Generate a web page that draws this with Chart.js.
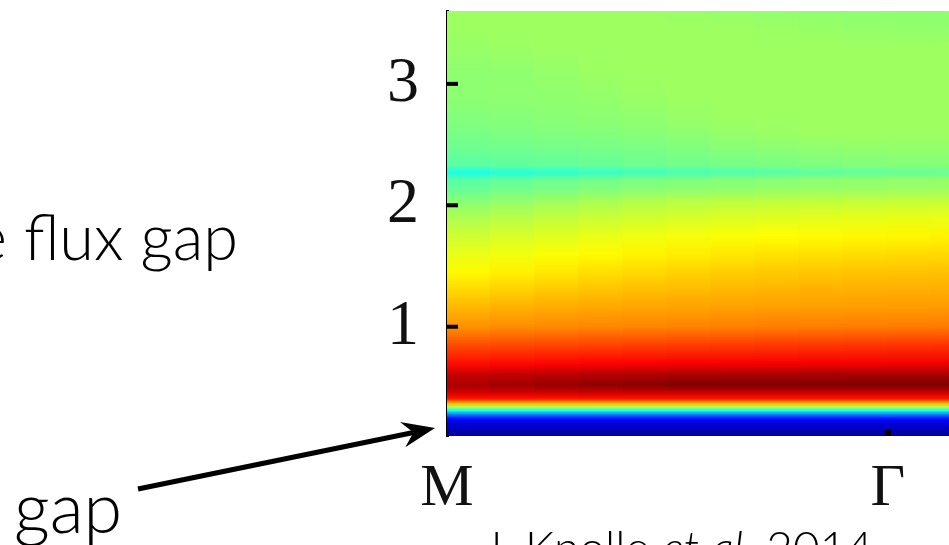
<!DOCTYPE html>
<html>
<head>
<meta charset="utf-8">
<script src="https://cdn.jsdelivr.net/npm/chart.js@4.4.0/dist/chart.umd.min.js"></script>
<style>
  html, body { margin: 0; padding: 0; background: #fff; overflow: hidden; }
  #wrap { position: relative; width: 976px; height: 545px; }
  canvas { position: absolute; left: 0; top: 0; }
  .note { position: absolute; font-family: Lato, 'Noto Sans', sans-serif; font-weight: 300; line-height: 1; white-space: nowrap; color: #000; }
  #flux { right: 738px; top: 204px; font-size: 63px; }
  #gap { left: 14px; top: 471px; font-size: 70px; }
  #cite { right: 103px; top: 524px; font-size: 46px; }
</style>
</head>
<body>
<div id="wrap">
  <canvas id="chart" width="976" height="545"></canvas>
  <div class="note" id="flux">e flux gap</div>
  <div class="note" id="gap">gap</div>
  <div class="note" id="cite">J. Knolle <i>et al.</i> 2014</div>
</div>
<script>
// column centres along the M-Γ cut (M = 0, Γ = 1)
const momentum = [0.05, 0.15, 0.25, 0.35, 0.45, 0.55, 0.65, 0.75, 0.85, 0.95, 1.05, 1.15];
// energy levels (y) where the intensity was read
const energy = [0.10, 0.18, 0.24, 0.28, 0.31, 0.34, 0.37, 0.41, 0.46, 0.52, 0.60, 0.70, 0.85, 1.00, 1.15, 1.30, 1.45, 1.60, 1.75, 1.90, 2.02, 2.13, 2.21, 2.27, 2.33, 2.45, 2.60, 2.75, 2.90, 3.10, 3.30, 3.45, 3.60];
// intensity (0..1 on the jet scale), one row per column
const intensity = [
  [0.03, 0.07, 0.13, 0.26, 0.40, 0.55, 0.70, 0.86, 0.92, 0.96, 0.93, 0.862, 0.80, 0.733, 0.698, 0.663, 0.630, 0.603, 0.576, 0.546, 0.513, 0.478, 0.462, 0.40, 0.463, 0.481, 0.496, 0.505, 0.514, 0.515, 0.524, 0.53, 0.53],
  [0.03, 0.07, 0.13, 0.26, 0.40, 0.55, 0.70, 0.86, 0.922, 0.968, 0.938, 0.866, 0.803, 0.737, 0.703, 0.670, 0.638, 0.611, 0.585, 0.555, 0.524, 0.488, 0.472, 0.41, 0.468, 0.484, 0.499, 0.508, 0.515, 0.516, 0.528, 0.53, 0.53],
  [0.03, 0.07, 0.13, 0.26, 0.40, 0.55, 0.70, 0.86, 0.925, 0.976, 0.945, 0.870, 0.806, 0.741, 0.708, 0.678, 0.647, 0.620, 0.594, 0.564, 0.535, 0.496, 0.481, 0.42, 0.472, 0.487, 0.502, 0.511, 0.516, 0.522, 0.53, 0.53, 0.53],
  [0.03, 0.07, 0.13, 0.26, 0.40, 0.55, 0.70, 0.86, 0.928, 0.984, 0.951, 0.874, 0.809, 0.744, 0.712, 0.684, 0.655, 0.629, 0.602, 0.572, 0.545, 0.503, 0.488, 0.43, 0.476, 0.490, 0.505, 0.514, 0.520, 0.528, 0.53, 0.53, 0.53],
  [0.03, 0.07, 0.13, 0.26, 0.40, 0.55, 0.70, 0.86, 0.93, 0.992, 0.956, 0.877, 0.812, 0.746, 0.715, 0.689, 0.662, 0.636, 0.609, 0.579, 0.553, 0.509, 0.495, 0.44, 0.481, 0.494, 0.509, 0.518, 0.527, 0.53, 0.53, 0.53, 0.53],
  [0.03, 0.07, 0.13, 0.26, 0.40, 0.55, 0.70, 0.86, 0.93, 1.0, 0.96, 0.880, 0.815, 0.748, 0.717, 0.693, 0.668, 0.642, 0.615, 0.585, 0.559, 0.514, 0.500, 0.448, 0.486, 0.499, 0.515, 0.526, 0.53, 0.53, 0.53, 0.53, 0.525],
  [0.03, 0.07, 0.13, 0.26, 0.40, 0.55, 0.70, 0.86, 0.93, 1.0, 0.962, 0.881, 0.817, 0.750, 0.719, 0.696, 0.673, 0.647, 0.620, 0.590, 0.564, 0.518, 0.505, 0.455, 0.491, 0.505, 0.522, 0.53, 0.53, 0.53, 0.53, 0.53, 0.52],
  [0.03, 0.07, 0.13, 0.26, 0.40, 0.55, 0.70, 0.86, 0.93, 1.0, 0.963, 0.882, 0.819, 0.751, 0.721, 0.699, 0.677, 0.651, 0.625, 0.594, 0.567, 0.522, 0.509, 0.461, 0.495, 0.510, 0.527, 0.53, 0.53, 0.53, 0.53, 0.528, 0.517],
  [0.03, 0.07, 0.13, 0.26, 0.40, 0.55, 0.70, 0.86, 0.93, 1.0, 0.964, 0.883, 0.821, 0.752, 0.722, 0.701, 0.680, 0.654, 0.628, 0.597, 0.570, 0.525, 0.513, 0.466, 0.499, 0.514, 0.53, 0.53, 0.53, 0.53, 0.53, 0.524, 0.516],
  [0.03, 0.07, 0.13, 0.26, 0.40, 0.55, 0.70, 0.86, 0.93, 1.0, 0.965, 0.884, 0.822, 0.753, 0.723, 0.703, 0.683, 0.657, 0.631, 0.600, 0.572, 0.527, 0.516, 0.471, 0.502, 0.516, 0.53, 0.53, 0.53, 0.53, 0.53, 0.521, 0.515],
  [0.03, 0.07, 0.13, 0.26, 0.40, 0.55, 0.70, 0.86, 0.93, 1.0, 0.965, 0.885, 0.824, 0.754, 0.724, 0.704, 0.684, 0.659, 0.633, 0.602, 0.574, 0.529, 0.518, 0.475, 0.504, 0.518, 0.53, 0.53, 0.53, 0.53, 0.53, 0.519, 0.515],
  [0.03, 0.07, 0.13, 0.26, 0.40, 0.55, 0.70, 0.86, 0.93, 1.0, 0.965, 0.885, 0.825, 0.755, 0.725, 0.705, 0.685, 0.660, 0.635, 0.603, 0.575, 0.53, 0.52, 0.478, 0.505, 0.518, 0.53, 0.53, 0.53, 0.53, 0.53, 0.518, 0.515],
];
const yTicks = [1, 2, 3];
const xTicks = [0, 1];
const xTickLabels = ['M', 'Γ'];

function jet(v) {
  const c = (t) => Math.round(255 * Math.max(0, Math.min(1, 1.5 - Math.abs(t))));
  return `rgb(${c(4 * v - 3)},${c(4 * v - 2)},${c(4 * v - 1)})`;
}

const gradients = {};
function columnFill(context) {
  const chart = context.chart;
  if (!chart.chartArea || context.type !== 'data') return 'transparent';
  const i = context.dataIndex;
  const y = chart.scales.y;
  const lo = energy[0];
  const hi = energy[energy.length - 1];
  const key = i + ':' + y.getPixelForValue(lo);
  if (gradients[key]) return gradients[key];
  const g = chart.ctx.createLinearGradient(0, y.getPixelForValue(lo), 0, y.getPixelForValue(hi));
  energy.forEach((e, j) => g.addColorStop((e - lo) / (hi - lo), jet(intensity[i][j])));
  gradients[key] = g;
  return g;
}

// inward tick marks and the arrow of the slide
const decorations = {
  id: 'decorations',
  afterDraw(chart) {
    const { ctx, chartArea, scales } = chart;
    ctx.save();
    ctx.fillStyle = '#000';
    yTicks.forEach((v) => {
      const py = scales.y.getPixelForValue(v);
      ctx.fillRect(chartArea.left, py - 2, 11, 4);
    });
    const gx = scales.x.getPixelForValue(xTicks[1]);
    ctx.fillRect(gx - 3, chartArea.bottom - 7, 6, 7);

    // arrow
    const x0 = 138, y0 = 489, x1 = 435, y1 = 428;
    const a = Math.atan2(y1 - y0, x1 - x0);
    const cos = Math.cos(a), sin = Math.sin(a);
    const len = 30, half = 13;
    const bx = x1 - len * cos, by = y1 - len * sin;
    ctx.strokeStyle = '#000';
    ctx.lineWidth = 5;
    ctx.beginPath();
    ctx.moveTo(x0, y0);
    ctx.lineTo(bx + 8 * cos, by + 8 * sin);
    ctx.stroke();
    ctx.beginPath();
    ctx.moveTo(x1, y1);
    ctx.lineTo(bx - half * sin - 3 * cos, by + half * cos - 3 * sin);
    ctx.lineTo(bx + 8 * cos, by + 8 * sin);
    ctx.lineTo(bx + half * sin - 3 * cos, by - half * cos - 3 * sin);
    ctx.closePath();
    ctx.fill();
    ctx.restore();
  },
};

new Chart(document.getElementById('chart'), {
  type: 'bar',
  data: {
    datasets: [{
      data: momentum.map((k) => ({ x: k, y: [energy[0], energy[energy.length - 1]] })),
      backgroundColor: columnFill,
      borderWidth: 0,
      barPercentage: 1,
      categoryPercentage: 1,
      inflateAmount: 1,
    }],
  },
  options: {
    responsive: false,
    animation: false,
    layout: { padding: { top: 11, left: 0, right: 0, bottom: 0 } },
    plugins: { legend: { display: false }, tooltip: { enabled: false } },
    scales: {
      x: {
        type: 'linear',
        min: 0,
        max: 1.2,
        offset: false,
        grid: { display: false },
        border: { display: false },
        afterBuildTicks: (scale) => { scale.ticks = xTicks.map((v) => ({ value: v })); },
        afterFit: (scale) => { scale.height = 109; scale.paddingLeft = 0; scale.paddingRight = 0; },
        ticks: {
          padding: 9,
          maxRotation: 0,
          autoSkip: false,
          color: '#111',
          font: { family: 'Liberation Serif', size: 60, lineHeight: 1.2 },
          callback: (value) => xTickLabels[xTicks.indexOf(value)],
        },
      },
      y: {
        type: 'linear',
        min: 0.1,
        max: 3.6,
        z: 1,
        grid: { display: false },
        border: { display: true, color: '#000', width: 3 },
        afterBuildTicks: (scale) => { scale.ticks = yTicks.map((v) => ({ value: v })); },
        afterFit: (scale) => { scale.width = 447; scale.paddingTop = 0; scale.paddingBottom = 0; },
        ticks: {
          padding: 20,
          color: '#111',
          font: { family: 'Liberation Serif', size: 64 },
        },
      },
    },
  },
  plugins: [decorations],
});
</script>
</body>
</html>
